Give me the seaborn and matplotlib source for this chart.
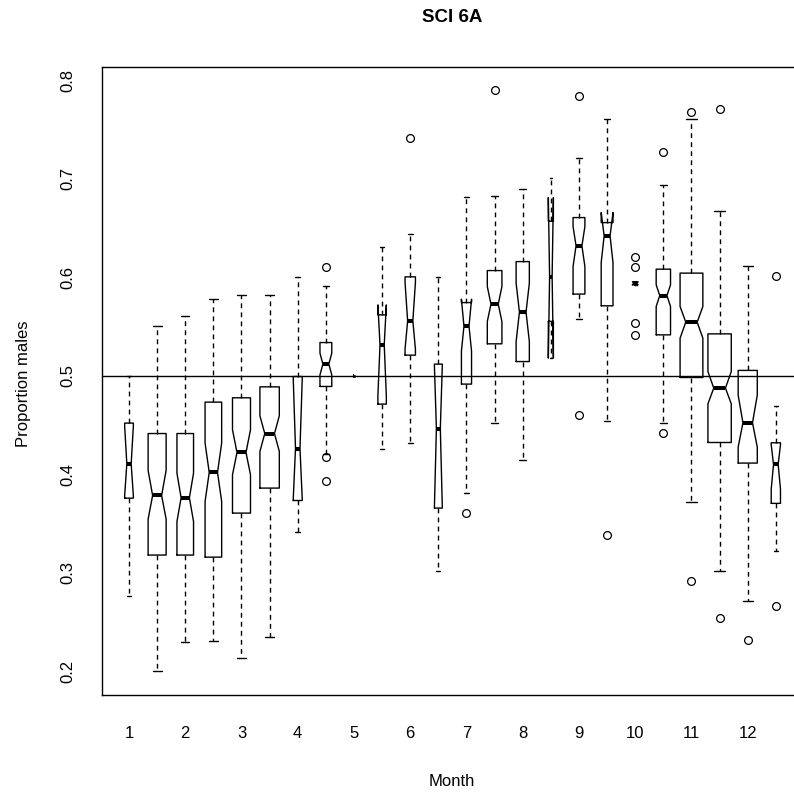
import matplotlib
matplotlib.use("Agg")
import matplotlib.pyplot as plt
import seaborn as sns

# ---- data (summary statistics, two boxes per month) ----
months = ["1", "2", "3", "4", "5", "6", "7", "8", "9", "10", "11", "12"]
whisker_low = [0.2766, 0.200, 0.2296, 0.231, 0.2134, 0.2347, 0.3413, 0.421,
               0.500, 0.4259, 0.4313, 0.302, 0.381, 0.452, 0.4147, 0.518,
               0.5575, 0.4546, 0.5925, 0.452, 0.3714, 0.302, 0.2711, 0.322]
q1 = [0.3758, 0.318, 0.318, 0.3159, 0.3606, 0.386, 0.3734, 0.4892,
      0.500, 0.4713, 0.521, 0.3657, 0.4916, 0.5325, 0.5145, 0.5553,
      0.583, 0.5711, 0.5925, 0.5416, 0.4983, 0.4323, 0.4114, 0.3705]
notch_low = [0.378, 0.3545, 0.352, 0.3724, 0.3995, 0.4232, 0.375, 0.501,
             0.500, 0.480, 0.527, 0.367, 0.525, 0.5551, 0.5348, 0.518,
             0.611, 0.615, 0.5925, 0.5704, 0.5383, 0.4716, 0.4276, 0.385]
median = [0.4107, 0.3785, 0.3761, 0.4019, 0.4222, 0.4414, 0.4262, 0.5119,
          0.500, 0.5315, 0.5558, 0.4465, 0.5504, 0.5728, 0.5647, 0.6008,
          0.632, 0.6421, 0.594, 0.5815, 0.5545, 0.4875, 0.4523, 0.410]
notch_high = [0.449, 0.4039, 0.4012, 0.4317, 0.4452, 0.4594, 0.497, 0.523,
              0.500, 0.572, 0.595, 0.510, 0.5778, 0.5907, 0.594, 0.681,
              0.6516, 0.6658, 0.5955, 0.5924, 0.5704, 0.5044, 0.4804, 0.430]
q3 = [0.452, 0.4414, 0.4414, 0.4733, 0.4777, 0.4888, 0.4993, 0.5338,
      0.500, 0.5619, 0.6005, 0.5119, 0.5744, 0.6069, 0.616, 0.657,
      0.6607, 0.6556, 0.5955, 0.6083, 0.6043, 0.5426, 0.5055, 0.432]
whisker_high = [0.500, 0.5508, 0.5609, 0.5785, 0.5816, 0.5816, 0.6005, 0.5914,
                0.500, 0.6307, 0.6445, 0.6008, 0.682, 0.683, 0.6902, 0.7007,
                0.7213, 0.7613, 0.5955, 0.6939, 0.7613, 0.6672, 0.6111, 0.4694]
outliers = [[], [], [], [], [], [], [], [0.611, 0.418, 0.393],
            [], [], [0.742], [], [0.3606], [0.7904], [], [],
            [0.7843, 0.4607], [0.3386], [0.6211, 0.611, 0.5541, 0.5416],
            [0.7277, 0.4418], [0.7677, 0.2912], [0.7714, 0.254], [0.2319],
            [0.6009, 0.2658]]
# relative box widths (varwidth), in box-spacing units
box_width = [0.31, 0.64, 0.59, 0.59, 0.64, 0.69, 0.32, 0.42,
             0.07, 0.30, 0.37, 0.28, 0.36, 0.52, 0.47, 0.18,
             0.42, 0.42, 0.20, 0.51, 0.81, 0.83, 0.68, 0.33]

positions = list(range(1, 2 * len(months) + 1))
tick_labels = []
for m in months:
    tick_labels += [m, ""]

stats = []
for i in range(len(positions)):
    stats.append(dict(whislo=whisker_low[i], q1=q1[i], cilo=notch_low[i],
                      med=median[i], cihi=notch_high[i], q3=q3[i],
                      whishi=whisker_high[i], fliers=outliers[i]))

# ---- style ----
sns.set_style("white")
plt.rcParams["font.family"] = ["Liberation Sans", "DejaVu Sans"]
plt.rcParams["text.color"] = "black"
plt.rcParams["axes.labelcolor"] = "black"

W, H = 794, 794
fig = plt.figure(figsize=(W / 100, H / 100), dpi=100)
left_px, right_px, top_px, bottom_px = 102, 802, 67, 694.5
ax = fig.add_axes([left_px / W, 1 - bottom_px / H,
                   (right_px - left_px) / W, (bottom_px - top_px) / H])

ax.bxp(stats, positions=positions, widths=box_width, shownotches=True,
       showfliers=True,
       boxprops=dict(color="black", linewidth=1.0),
       medianprops=dict(color="black", linewidth=2.9, solid_capstyle="butt"),
       whiskerprops=dict(color="black", linewidth=1.0, linestyle=(0, (3.5, 3))),
       capprops=dict(color="black", linewidth=1.0),
       flierprops=dict(marker="o", markersize=5.6, markerfacecolor="none",
                       markeredgecolor="black", markeredgewidth=0.9,
                       linestyle="none"))

ax.axhline(0.5, color="black", linewidth=1.0, zorder=0.5)

ax.set_xlim(0.04, 24.93)
ax.set_ylim(0.1764, 0.8136)
ax.set_xticks(positions)
ax.set_xticklabels(tick_labels)
ax.set_yticks([0.2, 0.3, 0.4, 0.5, 0.6, 0.7, 0.8])
ax.set_yticklabels(["0.2", "0.3", "0.4", "0.5", "0.6", "0.7", "0.8"],
                   rotation=90, va="center")

for s in ax.spines.values():
    s.set_color("black")
    s.set_linewidth(1.0)

ax.tick_params(axis="both", direction="out", length=5, width=0.9,
               color="black", labelsize=12, labelcolor="black")
ax.tick_params(axis="x", pad=18)
ax.tick_params(axis="y", pad=14)
ax.grid(False)

ax.set_xlabel("Month", fontsize=12, va="center", color="black")
ax.xaxis.set_label_coords(0.5, (bottom_px - 781) / (bottom_px - top_px))
ax.set_ylabel("Proportion males", fontsize=12, va="center", ha="center",
              color="black")
ax.yaxis.set_label_coords((23 - left_px) / (right_px - left_px), 0.495)
ax.set_title("SCI 6A", fontsize=13.5, fontweight="bold", va="center",
             color="black", pad=0,
             y=(bottom_px - 18) / (bottom_px - top_px))

fig.savefig("out.png", dpi=100, facecolor="white")
